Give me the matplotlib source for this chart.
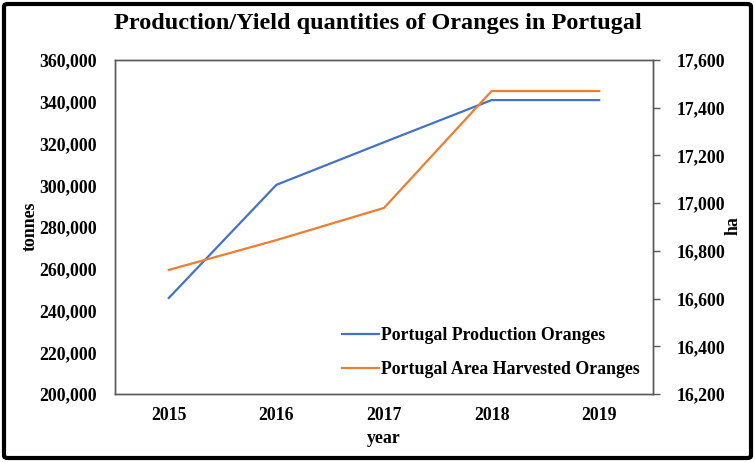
import matplotlib
matplotlib.use("Agg")
import matplotlib.pyplot as plt
from matplotlib.patches import FancyBboxPatch
from matplotlib.ticker import FuncFormatter

# values
years = ["2015", "2016", "2017", "2018", "2019"]
production = [246000, 300200, 320600, 340800, 340800]   # tonnes
area_harvested = [16720, 16845, 16980, 17470, 17470]    # ha

left_ticks = list(range(200000, 360001, 20000))
right_ticks = list(range(16200, 17601, 200))

W, H = 755, 462
plt.rcParams['font.family'] = ['Liberation Serif', 'DejaVu Serif']
plt.rcParams['font.weight'] = 'bold'

fig = plt.figure(figsize=(W / 100, H / 100), dpi=100)
ax = fig.add_axes([115 / W, 1 - 394 / H, (653 - 115) / W, (394 - 60) / H])
ax2 = ax.twinx()

x = list(range(len(years)))
l1, = ax.plot(x, production, color='#4472C4', lw=1.6, label='Portugal Production Oranges')
l2, = ax2.plot(x, area_harvested, color='#ED7D31', lw=1.6, label='Portugal Area Harvested Oranges')

ax.set_xlim(-0.5, len(years) - 0.5)
ax.set_ylim(left_ticks[0], left_ticks[-1])
ax2.set_ylim(right_ticks[0], right_ticks[-1])
ax.set_xticks(x)
ax.set_xticklabels(years)
ax.set_yticks(left_ticks)
ax2.set_yticks(right_ticks)

fmt = FuncFormatter(lambda v, p: f"{int(v):,}")
ax.yaxis.set_major_formatter(fmt)
ax2.yaxis.set_major_formatter(fmt)

fs = 12.8
ax.tick_params(axis='x', length=0, pad=9, labelsize=fs)
ax.tick_params(axis='y', length=0, pad=13, labelsize=fs)
ax2.tick_params(axis='y', length=5, width=1, color='#595959', direction='out', pad=12, labelsize=fs)

for a in (ax, ax2):
    for s in a.spines.values():
        s.set_color('#595959')
        s.set_linewidth(1.0)

ax.set_xlabel('year', fontsize=fs, fontweight='bold', labelpad=5)
fig.text(30 / W, 1 - 226 / H, 'tonnes', rotation=90, fontsize=fs, fontweight='bold',
         ha='center', va='center')
fig.text(733 / W, 1 - 226 / H, 'ha', rotation=90, fontsize=fs, fontweight='bold',
         ha='center', va='center')

fig.text(0.5, 1 - 23 / H, 'Production/Yield quantities of Oranges in Portugal',
         fontsize=17.5, fontweight='bold', ha='center', va='center')

leg = ax2.legend(handles=[l1, l2], loc='lower right', bbox_to_anchor=(1.005, 0.0),
                 frameon=False, fontsize=fs, handlelength=2.1, handletextpad=0.1,
                 labelspacing=0.95)

# outer border of the chart
border = FancyBboxPatch((4 / W, 4 / H), 1 - 8 / W, 1 - 8 / H,
                        boxstyle='round,pad=0,rounding_size=0.005',
                        transform=fig.transFigure, fill=False, edgecolor='black', lw=3)
fig.patches.append(border)

fig.savefig('out.png', dpi=100)
